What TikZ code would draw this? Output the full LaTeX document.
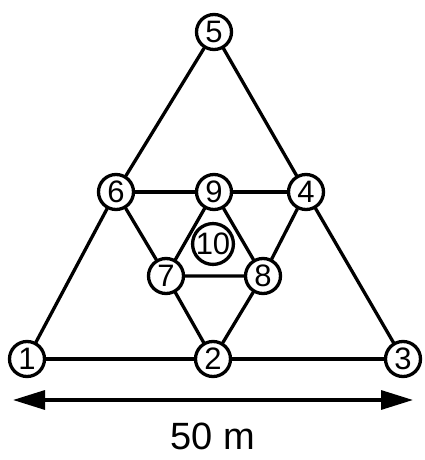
\documentclass[tikz,border=0pt]{standalone}
\usepackage{fontspec}
\setmainfont{Liberation Sans}
\usetikzlibrary{arrows.meta}
\begin{document}
\begin{tikzpicture}[x=1pt, y=1pt, line width=3.3pt, line join=round, line cap=round,
	pt/.style={circle, draw, fill=white, minimum size=35pt, inner sep=0pt, font=\fontsize{31}{31}\selectfont}]
			\useasboundingbox (0,0) rectangle (425,460);
			% Các nút
			\node[pt] (n1) at (27,101) {1};
			\node[pt] (n2) at (213,101) {2};
			\node[pt] (n3) at (403,101) {3};
			\node[pt] (n5) at (214,428) {5};
			\node[pt] (n6) at (116,268) {6};
			\node[pt] (n9) at (214,268) {9};
			\node[pt] (n4) at (306,268) {4};
			\node[pt] (n7) at (166,184) {7};
			\node[pt] (n8) at (263,184) {8};
			\node[pt] (n10) at (213,216) {10};
			
			\draw (n1) -- (n2) -- (n3);
			\draw (n1) -- (n6) -- (n5) -- (n4) -- (n3);
			\draw (n6) -- (n9) -- (n4);
			\draw (n6) -- (n7) -- (n2) -- (n8) -- (n4);
			\draw (n7) -- (n9) -- (n8) -- (n7);
			% Kích thước
			\coordinate (L) at (13,60);
			\coordinate (R) at (413,60);
			\draw[{Triangle[length=32pt,width=19pt]}-{Triangle[length=32pt,width=19pt]}, line cap=butt] (L) -- (R);
			\node[font=\fontsize{38}{38}\selectfont, inner sep=0pt] (len) at (213,24) {50 m};
		\end{tikzpicture}
\end{document}
